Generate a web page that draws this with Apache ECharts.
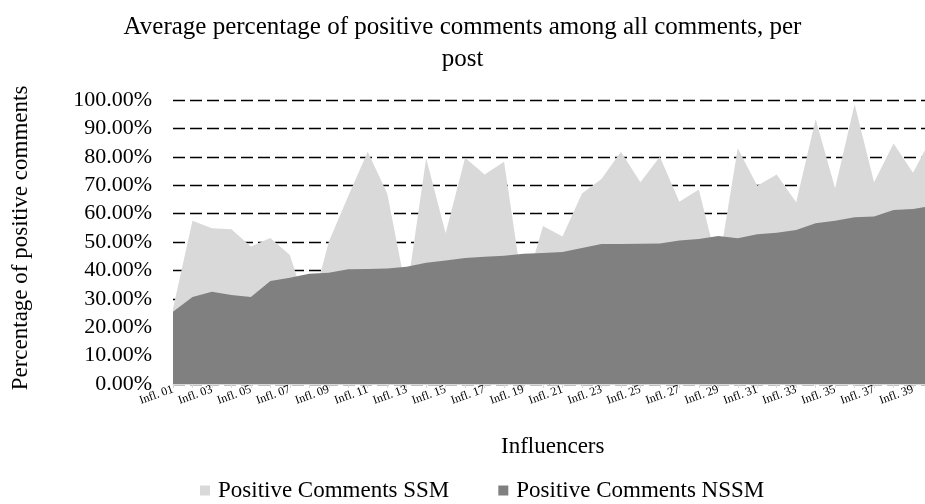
<!DOCTYPE html>
<html>
<head>
<meta charset="utf-8">
<script src="https://cdn.jsdelivr.net/npm/echarts@6/dist/echarts.min.js"></script>
<style>
  html, body { margin: 0; padding: 0; background: #fff; }
  #chart { width: 925px; height: 504px; }
</style>
</head>
<body>
<div id="chart"></div>
<script>
// Influencer categories along the x axis
const categories = [
  'Infl. 01', 'Infl. 02', 'Infl. 03', 'Infl. 04', 'Infl. 05', 'Infl. 06', 'Infl. 07', 'Infl. 08',
  'Infl. 09', 'Infl. 10', 'Infl. 11', 'Infl. 12', 'Infl. 13', 'Infl. 14', 'Infl. 15', 'Infl. 16',
  'Infl. 17', 'Infl. 18', 'Infl. 19', 'Infl. 20', 'Infl. 21', 'Infl. 22', 'Infl. 23', 'Infl. 24',
  'Infl. 25', 'Infl. 26', 'Infl. 27', 'Infl. 28', 'Infl. 29', 'Infl. 30', 'Infl. 31', 'Infl. 32',
  'Infl. 33', 'Infl. 34', 'Infl. 35', 'Infl. 36', 'Infl. 37', 'Infl. 38', 'Infl. 39', 'Infl. 40'
];

// Average share of positive comments per post (percent)
const positiveSSM = [
  26.5, 57.5, 54.8, 54.5, 48.4, 51.4, 45.4, 24.0, 50.1, 66.2,
  81.8, 67.1, 32.0, 79.5, 53.1, 79.7, 73.8, 78.3, 32.0, 55.6,
  51.9, 67.1, 72.2, 81.8, 71.0, 80.0, 64.2, 68.5, 41.0, 83.0,
  69.8, 73.8, 64.0, 93.2, 68.9, 98.5, 71.0, 84.7, 74.4, 87.4
];
const positiveNSSM = [
  25.4, 30.6, 32.5, 31.3, 30.6, 36.3, 37.4, 38.8, 39.2, 40.4,
  40.5, 40.7, 41.3, 42.7, 43.5, 44.4, 44.8, 45.2, 45.9, 46.1,
  46.5, 47.9, 49.3, 49.3, 49.4, 49.5, 50.5, 51.1, 52.1, 51.3,
  52.7, 53.3, 54.2, 56.6, 57.5, 58.7, 59.0, 61.3, 61.6, 62.8
];

const seriesNames = ['Positive Comments SSM', 'Positive Comments NSSM'];
const titleText = 'Average percentage of positive comments among all comments, per\npost';
const yAxisTitle = 'Percentage of positive comments';
const xAxisTitle = 'Influencers';

const serif = "'Liberation Serif', 'DejaVu Serif', serif";
const lightGrey = '#d9d9d9';
const darkGrey = '#808080';

const chart = echarts.init(document.getElementById('chart'), null, { renderer: 'canvas' });

chart.setOption({
  backgroundColor: '#ffffff',
  animation: false,
  title: {
    text: titleText,
    left: 'center',
    top: 6,
    textStyle: {
      fontFamily: serif,
      fontSize: 25,
      fontWeight: 'normal',
      color: '#000',
      lineHeight: 32
    }
  },
  legend: {
    data: seriesNames,
    left: 195,
    top: 474,
    icon: 'rect',
    itemWidth: 10,
    itemHeight: 10,
    itemGap: 49,
    textStyle: { fontFamily: serif, fontSize: 23, color: '#000', padding: [0, 0, 0, 3] }
  },
  // The plot runs a little past the right edge of the canvas, so the last
  // category sits just outside the visible area.
  grid: {
    left: 173,
    top: 100,
    width: 759.5,
    height: 284,
    containLabel: false,
    outerBoundsMode: 'none'
  },
  xAxis: {
    type: 'category',
    data: categories,
    boundaryGap: false,
    name: xAxisTitle,
    nameLocation: 'middle',
    nameGap: 51,
    nameTextStyle: { fontFamily: serif, fontSize: 23, color: '#000' },
    axisLine: { show: true, lineStyle: { color: lightGrey, width: 1 } },
    axisTick: { show: true, interval: 0, length: 4, lineStyle: { color: lightGrey } },
    axisLabel: {
      interval: 1,
      rotate: 20,
      margin: 5,
      fontFamily: serif,
      fontSize: 12,
      color: '#000'
    },
    splitLine: { show: false }
  },
  yAxis: {
    type: 'value',
    min: 0,
    max: 100,
    interval: 10,
    name: yAxisTitle,
    nameLocation: 'middle',
    nameGap: 141,
    nameTextStyle: { fontFamily: serif, fontSize: 23, color: '#000', padding: [0, 0, 0, 8] },
    axisLine: { show: false },
    axisTick: { show: false },
    axisLabel: {
      margin: 21,
      fontFamily: serif,
      fontSize: 22,
      color: '#000',
      formatter: v => v.toFixed(2) + '%'
    },
    splitLine: {
      show: true,
      lineStyle: { color: '#000', width: 1.3, type: [12, 5] }
    }
  },
  series: [
    {
      name: seriesNames[0],
      type: 'line',
      data: positiveSSM,
      symbol: 'none',
      lineStyle: { width: 0 },
      itemStyle: { color: lightGrey },
      areaStyle: { color: lightGrey, opacity: 1 },
      z: 2
    },
    {
      name: seriesNames[1],
      type: 'line',
      data: positiveNSSM,
      symbol: 'none',
      lineStyle: { width: 0 },
      itemStyle: { color: darkGrey },
      areaStyle: { color: darkGrey, opacity: 1 },
      z: 3
    }
  ]
});
</script>
</body>
</html>
